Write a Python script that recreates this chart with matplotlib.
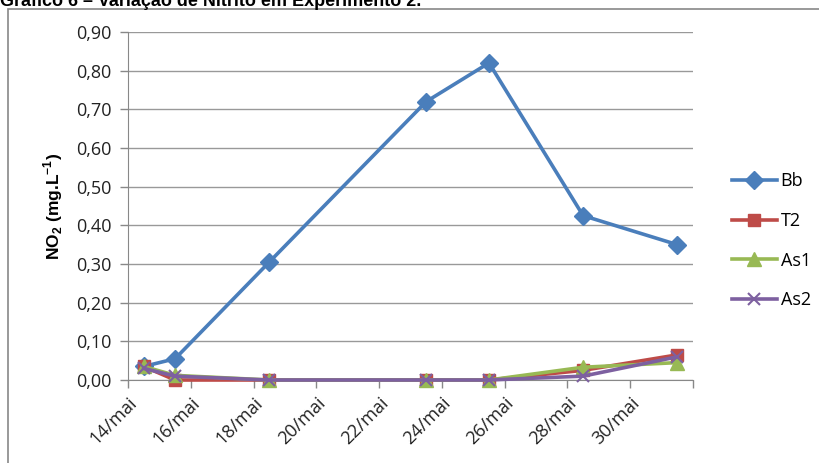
import matplotlib.pyplot as plt
from matplotlib.patches import Rectangle

# dias de coleta (maio); no eixo de datas do Excel os pontos ficam no meio do dia
dias = [14, 15, 18, 23, 25, 28, 31]
bb = [0.035, 0.055, 0.305, 0.72, 0.82, 0.425, 0.35]
t2 = [0.035, 0.0, 0.0, 0.0, 0.0, 0.025, 0.065]
as1 = [0.035, 0.012, 0.0, 0.0, 0.0, 0.033, 0.045]
as2 = [0.030, 0.010, 0.0, 0.0, 0.0, 0.010, 0.060]

tick_dias = [14, 16, 18, 20, 22, 24, 26, 28, 30, 32]
tick_labels = ['14/mai', '16/mai', '18/mai', '20/mai', '22/mai', '24/mai',
               '26/mai', '28/mai', '30/mai', '']
y_ticks = [0.0, 0.1, 0.2, 0.3, 0.4, 0.5, 0.6, 0.7, 0.8, 0.9]

plt.rcParams['font.family'] = ['Open Sans', 'DejaVu Sans']
plt.rcParams['mathtext.fontset'] = 'custom'
plt.rcParams['mathtext.rm'] = 'Liberation Sans:bold'
plt.rcParams['mathtext.bf'] = 'Liberation Sans:bold'

fig = plt.figure(figsize=(8.19, 4.63), dpi=100)
ax = fig.add_axes([128 / 819, 1 - 380 / 463, (693 - 128) / 819, (380 - 32) / 463])

# moldura do grafico e titulo cortado
fig.patches.append(Rectangle((8 / 819, -0.1), 1.2, 1 - 9 / 463 + 0.1,
                             transform=fig.transFigure, fill=False,
                             edgecolor='#888888', linewidth=1.2))
fig.text(0.0, 1 - 6 / 463, 'Gráfico 6 – Variação de Nitrito em Experimento 2.',
         fontsize=13, fontweight='bold', family='Liberation Sans', va='baseline')

x = [d + 0.5 for d in dias]
ax.plot(x, bb, color='#4A7EBB', lw=2.6, marker='D', ms=9, label='Bb', zorder=3)
ax.plot(x, t2, color='#BE4B48', lw=2.6, marker='s', ms=9, label='T2', zorder=4)
ax.plot(x, as1, color='#98B954', lw=2.6, marker='^', ms=10, label='As1', zorder=5)
ax.plot(x, as2, color='#7D60A0', lw=2.6, marker='x', ms=9, mew=1.5, label='As2', zorder=6)

ax.set_xlim(14, 32)
ax.set_ylim(0, 0.9)
ax.set_yticks(y_ticks)
ax.set_yticklabels([f'{v:.2f}'.replace('.', ',') for v in y_ticks], fontsize=13, color='#222222')
ax.set_xticks(tick_dias)
ax.set_xticklabels(tick_labels, rotation=45, ha='right', rotation_mode='anchor',
                   fontsize=13, color='#222222')
ax.tick_params(axis='both', length=6, color='#888888', width=1)
ax.tick_params(axis='x', pad=4)
ax.tick_params(axis='y', pad=6)
ax.grid(axis='y', color='#999999', lw=1)
ax.set_axisbelow(True)
for s in ['top', 'right']:
    ax.spines[s].set_visible(False)
ax.spines['left'].set_color('#888888')
ax.spines['bottom'].set_color('#888888')
for ln in ax.lines:
    ln.set_clip_on(False)

ax.set_ylabel(r'NO$_2$ (mg.L$^{-1}$)', fontsize=12.5, fontweight='bold',
              family='Liberation Sans', labelpad=8)

leg = ax.legend(loc='center left', bbox_to_anchor=(1.04, 0.40), frameon=False,
                fontsize=13, handlelength=2.5, labelspacing=1.2, handletextpad=0.2)

fig.savefig('out.png', dpi=100)
